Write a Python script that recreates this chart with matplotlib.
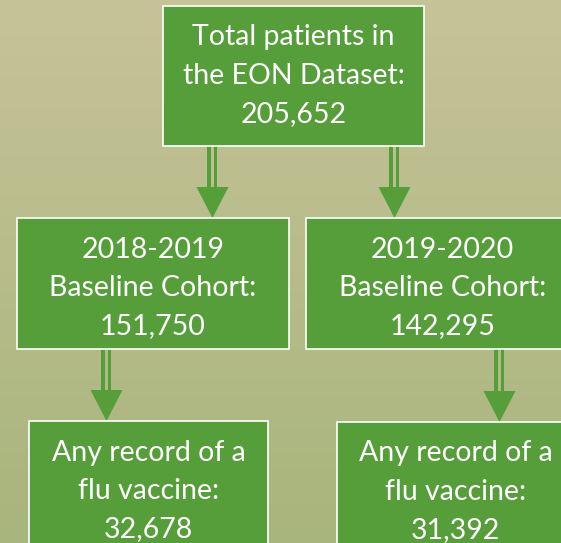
import numpy as np
import matplotlib
matplotlib.use("Agg")
import matplotlib.pyplot as plt
from matplotlib.patches import Rectangle, Polygon

# ---- data ----
box_titles = ["Total patients in\nthe EON Dataset:",
              "2018-2019\nBaseline Cohort:",
              "2019-2020\nBaseline Cohort:",
              "Any record of a\nflu vaccine:",
              "Any record of a\nflu vaccine:"]
box_counts = [205652, 151750, 142295, 32678, 31392]
# parent index for each box (-1 = root)
box_parent = [-1, 0, 0, 1, 2]

# ---- layout (pixel coords) ----
W, H = 561, 543
box_rects = [(163, 6, 424, 146),
             (17, 218, 289, 349),
             (306, 218, 579, 349),
             (29, 421, 268, 580),
             (337, 422, 574, 580)]
arrow_x = {1: 212.5, 2: 394.5, 3: 106.5, 4: 499.5}

GREEN = "#559e3a"

fig = plt.figure(figsize=(W / 100, H / 100), dpi=100)
ax = fig.add_axes([0, 0, 1, 1])
ax.set_xlim(0, W)
ax.set_ylim(H, 0)
ax.axis("off")

# background gradient
top = np.array([198, 195, 152]) / 255
bot = np.array([168, 181, 124]) / 255
t = np.linspace(0, 1, 256)[:, None, None]
grad = top * (1 - t) + bot * t
grad = np.repeat(grad, 2, axis=1)
ax.imshow(grad, extent=[0, W, H, 0], aspect="auto", zorder=0)

for i, ((x0, y0, x1, y1), title, cnt) in enumerate(zip(box_rects, box_titles, box_counts)):
    ax.add_patch(Rectangle((x0, y0), x1 - x0, y1 - y0, facecolor=GREEN,
                           edgecolor="white", linewidth=1.2, zorder=2))
    cx = (x0 + x1) / 2
    lines = title.split("\n") + [f"{cnt:,}"]
    for k, line in enumerate(lines):
        ax.text(cx, y0 + 39.5 + k * 38.5, line, ha="center", va="baseline",
                color="white", fontsize=20.5, family="Lato", zorder=3)

    p = box_parent[i]
    if p >= 0:
        ax_ = arrow_x[i]
        ys = box_rects[p][3]
        yt = y0
        head_h = 31
        hw = 16
        # double shaft
        ax.add_patch(Rectangle((ax_ - 5, ys), 3.5, yt - head_h - ys, facecolor=GREEN,
                               edgecolor="none", zorder=1))
        ax.add_patch(Rectangle((ax_ + 1.5, ys), 3.5, yt - head_h - ys, facecolor=GREEN,
                               edgecolor="none", zorder=1))
        ax.add_patch(Polygon([(ax_ - hw, yt - head_h), (ax_ + hw, yt - head_h), (ax_, yt)],
                             closed=True, facecolor=GREEN, edgecolor="none", zorder=1))

fig.savefig("out.png", dpi=100)
